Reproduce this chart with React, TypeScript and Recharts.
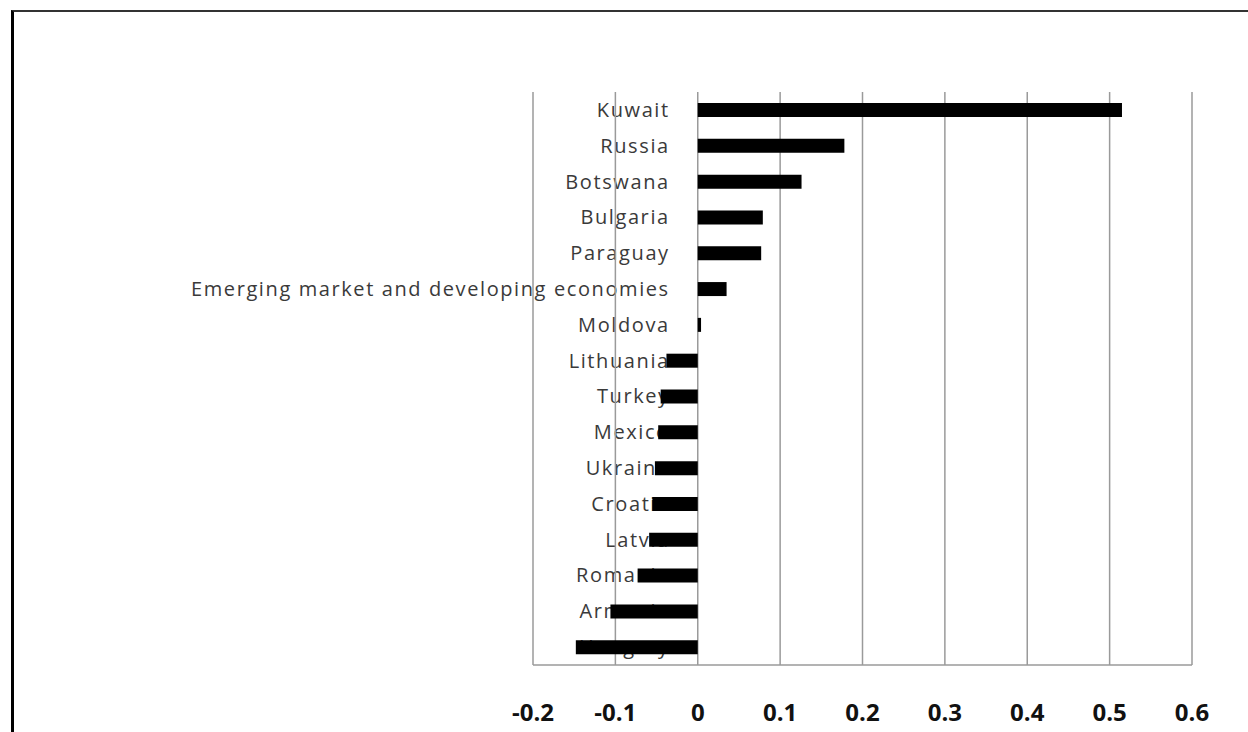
import React from "react";
import { Bar, BarChart, CartesianGrid, XAxis, YAxis } from "recharts";

const countries: string[] = [
  "Kuwait",
  "Russia",
  "Botswana",
  "Bulgaria",
  "Paraguay",
  "Emerging market and developing economies",
  "Moldova",
  "Lithuania",
  "Turkey",
  "Mexico",
  "Ukraine",
  "Croatia",
  "Latvia",
  "Romania",
  "Armenia",
  "Hungary",
];

const values: number[] = [
  0.515, 0.178, 0.126, 0.079, 0.077, 0.035, 0.004, -0.038, -0.045, -0.048,
  -0.052, -0.055, -0.059, -0.073, -0.106, -0.148,
];

const xTicks: number[] = [-0.2, -0.1, 0, 0.1, 0.2, 0.3, 0.4, 0.5, 0.6];

const data = countries.map((name, i) => ({ name, value: values[i] }));

// plot geometry (px)
const W = 1248;
const H = 732;
const PLOT_LEFT = 533;
const PLOT_RIGHT = 1192;
const X_MIN = -0.2;
const X_MAX = 0.6;
const zeroX = PLOT_LEFT + ((0 - X_MIN) / (X_MAX - X_MIN)) * (PLOT_RIGHT - PLOT_LEFT);
const margin = { top: 92, right: W - PLOT_RIGHT, bottom: 0, left: 0 };

// category labels sit next to the zero line, like the Excel original
const CategoryTick = (props: any) => {
  const { y, payload } = props;
  return (
    <text
      x={zeroX - 28}
      y={y}
      dy="0.35em"
      textAnchor="end"
      fill="#3a3a3a"
      fontSize={20}
      letterSpacing={1.6}
      fontFamily="'Open Sans', sans-serif"
    >
      {payload.value}
    </text>
  );
};

const layer: React.CSSProperties = { position: "absolute", left: 0, top: 0 };

export default function App() {
  return (
    <div style={{ position: "absolute", left: 0, top: 0, width: W, height: H, background: "#fff", overflow: "hidden" }}>
      <div
        style={{
          position: "absolute",
          left: 11,
          top: 10,
          width: W,
          height: H,
          borderTop: "2px solid #333",
          borderLeft: "3px solid #000",
        }}
      />
      {/* under layer: category labels only */}
      <div style={layer}>
        <BarChart width={W} height={H} data={data} layout="vertical" margin={margin}>
          <YAxis
            type="category"
            dataKey="name"
            width={PLOT_LEFT}
            axisLine={false}
            tickLine={false}
            interval={0}
            tick={<CategoryTick />}
          />
          <XAxis
            type="number"
            domain={[X_MIN, X_MAX]}
            ticks={xTicks}
            allowDataOverflow
            height={67}
            axisLine={false}
            tickLine={false}
            tick={false}
          />
        </BarChart>
      </div>
      {/* top layer: grid, bars and value axis, so bars cover the labels */}
      <div style={layer}>
        <BarChart width={W} height={H} data={data} layout="vertical" margin={margin} barSize={14}>
          <CartesianGrid horizontal={false} stroke="#9a9a9a" strokeWidth={1.5} />
          <YAxis type="category" dataKey="name" width={PLOT_LEFT} axisLine={false} tickLine={false} tick={false} />
          <XAxis
            type="number"
            domain={[X_MIN, X_MAX]}
            ticks={xTicks}
            allowDataOverflow
            height={67}
            axisLine={{ stroke: "#9a9a9a", strokeWidth: 1.5 }}
            tickLine={false}
            tickMargin={33}
            tick={{ fill: "#111", fontSize: 24, fontWeight: 700, fontFamily: "'Open Sans', sans-serif" }}
          />
          <Bar dataKey="value" fill="#000" isAnimationActive={false} />
        </BarChart>
      </div>
    </div>
  );
}
